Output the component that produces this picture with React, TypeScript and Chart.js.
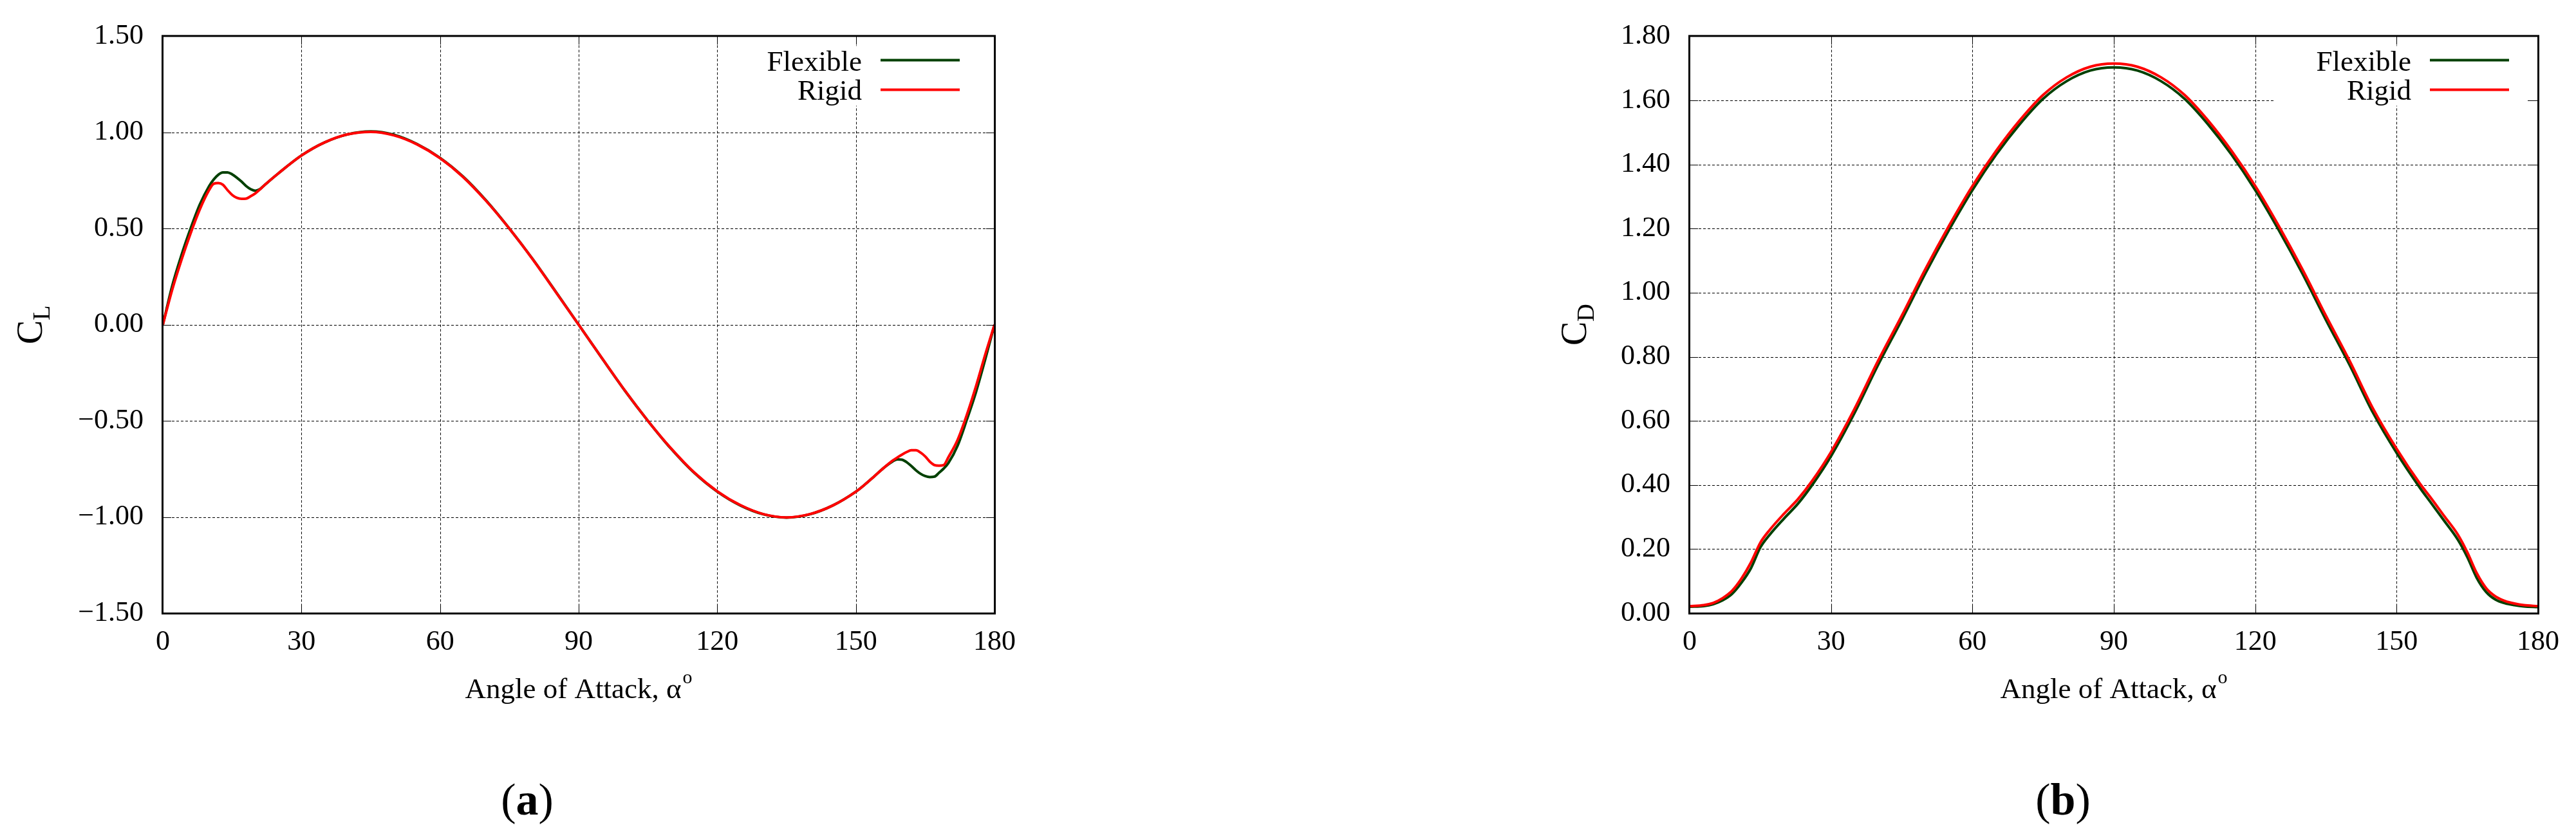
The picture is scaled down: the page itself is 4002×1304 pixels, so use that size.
import { useEffect, useRef } from "react";
import Chart from "chart.js/auto";

// angle of attack (deg) and lift coefficient, panel (a)
const clAngles = [0, 2, 4, 6, 8, 10, 11, 12, 13, 14, 15, 16, 17, 18, 19, 20, 21, 22, 25, 30, 35, 40, 45, 50, 55, 60, 65, 70, 75, 80, 85, 90, 95, 100, 105, 110, 115, 120, 125, 130, 135, 140, 145, 150, 152, 154, 156, 158, 159, 160, 161, 162, 163, 164, 165, 166, 167, 168, 169, 170, 172, 174, 176, 178, 180];
const clFlexible = [0, 0.2, 0.36, 0.5, 0.625, 0.72, 0.755, 0.78, 0.792, 0.792, 0.782, 0.765, 0.745, 0.722, 0.705, 0.697, 0.705, 0.726, 0.787, 0.88, 0.948, 0.99, 1.005, 0.988, 0.94, 0.868, 0.77, 0.645, 0.5, 0.343, 0.173, 0, -0.173, -0.343, -0.5, -0.645, -0.77, -0.868, -0.94, -0.986, -1.003, -0.986, -0.94, -0.868, -0.83, -0.788, -0.745, -0.71, -0.7, -0.702, -0.715, -0.735, -0.757, -0.775, -0.787, -0.792, -0.79, -0.77, -0.748, -0.72, -0.63, -0.495, -0.35, -0.18, 0];
const clRigid = [0, 0.18, 0.335, 0.475, 0.6, 0.7, 0.733, 0.737, 0.728, 0.7, 0.675, 0.66, 0.655, 0.656, 0.668, 0.683, 0.703, 0.726, 0.787, 0.88, 0.948, 0.99, 1.003, 0.985, 0.938, 0.866, 0.768, 0.643, 0.5, 0.342, 0.172, 0, -0.172, -0.342, -0.5, -0.643, -0.768, -0.866, -0.938, -0.985, -1.002, -0.985, -0.94, -0.868, -0.83, -0.788, -0.745, -0.706, -0.69, -0.675, -0.662, -0.653, -0.653, -0.665, -0.685, -0.712, -0.73, -0.733, -0.73, -0.69, -0.6, -0.47, -0.32, -0.155, 0];

// angle of attack (deg) and drag coefficient, panel (b)
const cdAngles = [0, 3, 5, 7, 9, 11, 13, 15, 17, 20, 23, 26, 30, 35, 40, 45, 50, 55, 60, 65, 70, 75, 80, 85, 90, 95, 100, 105, 110, 115, 120, 125, 130, 135, 140, 145, 150, 155, 157, 160, 163, 165, 167, 169, 171, 173, 175, 177, 180];
const cdFlexible = [0.02, 0.022, 0.028, 0.04, 0.06, 0.095, 0.14, 0.205, 0.245, 0.295, 0.342, 0.4, 0.49, 0.625, 0.775, 0.915, 1.06, 1.195, 1.32, 1.43, 1.525, 1.605, 1.66, 1.693, 1.703, 1.693, 1.66, 1.605, 1.525, 1.43, 1.32, 1.195, 1.06, 0.915, 0.775, 0.625, 0.5, 0.39, 0.35, 0.29, 0.229, 0.175, 0.11, 0.066, 0.042, 0.031, 0.025, 0.021, 0.019];
const cdRigid = [0.022, 0.025, 0.032, 0.047, 0.07, 0.108, 0.158, 0.22, 0.26, 0.31, 0.356, 0.413, 0.503, 0.638, 0.788, 0.928, 1.073, 1.208, 1.333, 1.442, 1.537, 1.617, 1.672, 1.705, 1.715, 1.705, 1.672, 1.617, 1.537, 1.442, 1.333, 1.208, 1.073, 0.928, 0.788, 0.638, 0.513, 0.403, 0.365, 0.305, 0.245, 0.19, 0.125, 0.078, 0.052, 0.038, 0.03, 0.025, 0.022];

// tick values
const xTicks = [0, 30, 60, 90, 120, 150, 180];
const clTicks = [-1.5, -1, -0.5, 0, 0.5, 1, 1.5];
const cdTicks = [0, 0.2, 0.4, 0.6, 0.8, 1, 1.2, 1.4, 1.6, 1.8];

const seriesNames = ["Flexible", "Rigid"];
const xTitle = "Angle of Attack, α";

const FONT = '"Liberation Serif", "Times New Roman", serif';
const GREEN = "#004000";
const RED = "#ff0000";
const H = 1304;
const AREA_TOP = 52;
const AREA_BOTTOM = 953;
const TICK = 13;

type PanelProps = {
    angles: number[];
    flexible: number[];
    rigid: number[];
    yTicks: number[];
    ySub: string;
    canvasLeft: number;
    canvasWidth: number;
    areaLeft: number;
    areaRight: number;
    yTitleX: number;
    legText: number;
    legLine0: number;
    legLine1: number;
};

const fmt = (v: number) => (v < 0 ? "\u2212" : "") + Math.abs(v).toFixed(2);

const makeDecor = (p: PanelProps) => ({
    id: "decor",
    beforeDatasetsDraw(chart: any) {
        const { ctx, chartArea: a, scales } = chart;
        ctx.save();
        ctx.strokeStyle = "#000";
        ctx.lineWidth = 1;
        ctx.setLineDash([4, 3]);
        ctx.beginPath();
        for (const t of scales.x.ticks) {
            const px = Math.round(scales.x.getPixelForValue(t.value)) + 0.5;
            if (px < a.left + 3 || px > a.right - 3) continue;
            ctx.moveTo(px, a.top);
            ctx.lineTo(px, a.bottom);
        }
        for (const t of scales.y.ticks) {
            const py = Math.round(scales.y.getPixelForValue(t.value)) + 0.5;
            if (py < a.top + 3 || py > a.bottom - 3) continue;
            ctx.moveTo(a.left, py);
            ctx.lineTo(a.right, py);
        }
        ctx.stroke();
        ctx.setLineDash([]);
        // opaque key box
        ctx.fillStyle = "#fff";
        ctx.fillRect(a.right - 410, a.top + 15, 393, 93);
        ctx.restore();
    },
    afterDatasetsDraw(chart: any) {
        const { ctx, chartArea: a, scales } = chart;
        ctx.save();
        ctx.strokeStyle = "#000";
        ctx.lineWidth = 1;
        ctx.beginPath();
        for (const t of scales.x.ticks) {
            const px = Math.round(scales.x.getPixelForValue(t.value)) + 0.5;
            if (px < a.left + 3 || px > a.right - 3) continue;
            ctx.moveTo(px, a.bottom);
            ctx.lineTo(px, a.bottom - TICK);
            ctx.moveTo(px, a.top);
            ctx.lineTo(px, a.top + TICK);
        }
        for (const t of scales.y.ticks) {
            const py = Math.round(scales.y.getPixelForValue(t.value)) + 0.5;
            if (py < a.top + 3 || py > a.bottom - 3) continue;
            ctx.moveTo(a.left, py);
            ctx.lineTo(a.left + TICK, py);
            ctx.moveTo(a.right, py);
            ctx.lineTo(a.right - TICK, py);
        }
        ctx.stroke();
        ctx.lineWidth = 3;
        ctx.strokeRect(a.left - 0.5, a.top - 0.5, a.right - a.left + 1, a.bottom - a.top + 1);

        // key
        const ds = chart.data.datasets;
        ctx.font = `45px ${FONT}`;
        ctx.fillStyle = "#000";
        ctx.textAlign = "right";
        ctx.textBaseline = "alphabetic";
        ctx.fillText(ds[0].label, a.right - p.legText, a.top + 54);
        ctx.fillText(ds[1].label, a.right - p.legText, a.top + 99);
        ctx.lineWidth = 4;
        ctx.strokeStyle = GREEN;
        ctx.beginPath();
        ctx.moveTo(a.right - p.legLine0, a.top + 37);
        ctx.lineTo(a.right - p.legLine1, a.top + 37);
        ctx.stroke();
        ctx.strokeStyle = RED;
        ctx.beginPath();
        ctx.moveTo(a.right - p.legLine0, a.top + 83);
        ctx.lineTo(a.right - p.legLine1, a.top + 83);
        ctx.stroke();
        ctx.restore();
    },
    afterDraw(chart: any) {
        const { ctx, chartArea: a } = chart;
        ctx.save();
        ctx.fillStyle = "#000";
        ctx.textBaseline = "alphabetic";
        ctx.textAlign = "left";
        // x title with superscript o
        ctx.font = `45px ${FONT}`;
        const wMain = ctx.measureText(xTitle).width;
        ctx.font = `30px ${FONT}`;
        const wSup = ctx.measureText("o").width;
        const x0 = (a.left + a.right) / 2 - (wMain + wSup + 2) / 2;
        ctx.font = `45px ${FONT}`;
        ctx.fillText(xTitle, x0, 1085);
        ctx.font = `30px ${FONT}`;
        ctx.fillText("o", x0 + wMain + 2, 1062);

        // y title C with subscript, rotated
        ctx.translate(p.yTitleX, (a.top + a.bottom) / 2);
        ctx.rotate(-Math.PI / 2);
        ctx.font = `56px ${FONT}`;
        const wC = ctx.measureText("C").width;
        ctx.font = `38px ${FONT}`;
        const wS = ctx.measureText(p.ySub).width;
        const sx = -(wC + wS) / 2;
        ctx.font = `56px ${FONT}`;
        ctx.fillText("C", sx, 18);
        ctx.font = `38px ${FONT}`;
        ctx.fillText(p.ySub, sx + wC, 30);
        ctx.restore();
    },
});

const Panel = (p: PanelProps) => {
    const chartRef = useRef<HTMLCanvasElement>(null);

    useEffect(() => {
        let chartInstance: any;
        if (chartRef && chartRef.current) {
            chartInstance = new Chart(chartRef.current, {
                type: "line",
                data: {
                    datasets: [
                        {
                            label: seriesNames[0],
                            data: p.angles.map((a, i) => ({ x: a, y: p.flexible[i] })),
                            borderColor: GREEN,
                            borderWidth: 4,
                            pointRadius: 0,
                            fill: false,
                            cubicInterpolationMode: "monotone",
                            order: 1,
                        },
                        {
                            label: seriesNames[1],
                            data: p.angles.map((a, i) => ({ x: a, y: p.rigid[i] })),
                            borderColor: RED,
                            borderWidth: 4,
                            pointRadius: 0,
                            fill: false,
                            cubicInterpolationMode: "monotone",
                            order: 0,
                        },
                    ],
                },
                options: {
                    animation: false,
                    responsive: false,
                    devicePixelRatio: 1,
                    layout: {
                        padding: { left: 0, top: AREA_TOP, right: p.canvasWidth - p.areaRight, bottom: 0 },
                    },
                    plugins: { legend: { display: false }, tooltip: { enabled: false } },
                    scales: {
                        x: {
                            type: "linear",
                            min: 0,
                            max: 180,
                            afterBuildTicks: (s: any) => {
                                s.ticks = xTicks.map((v) => ({ value: v }));
                            },
                            afterFit: (s: any) => {
                                s.height = H - AREA_BOTTOM;
                            },
                            grid: { display: false, drawTicks: false },
                            border: { display: false },
                            ticks: {
                                padding: 19,
                                color: "#000",
                                font: { family: FONT, size: 44 },
                                maxRotation: 0,
                                callback: (v: any) => String(v),
                            },
                        },
                        y: {
                            type: "linear",
                            min: p.yTicks[0],
                            max: p.yTicks[p.yTicks.length - 1],
                            afterBuildTicks: (s: any) => {
                                s.ticks = p.yTicks.map((v) => ({ value: v }));
                            },
                            afterFit: (s: any) => {
                                s.width = p.areaLeft;
                            },
                            grid: { display: false, drawTicks: false },
                            border: { display: false },
                            ticks: {
                                padding: 30,
                                color: "#000",
                                font: { family: FONT, size: 44 },
                                callback: (v: any) => fmt(Number(v)),
                            },
                        },
                    },
                },
                plugins: [makeDecor(p)],
            } as any);
        }

        return () => {
            if (chartInstance) {
                chartInstance.destroy();
            }
        };
    }, [p]);

    return (
        <canvas
            ref={chartRef}
            width={p.canvasWidth}
            height={H}
            style={{ position: "absolute", left: p.canvasLeft, top: 0, width: p.canvasWidth, height: H }}
        />
    );
};

const panelA: PanelProps = {
    angles: clAngles,
    flexible: clFlexible,
    rigid: clRigid,
    yTicks: clTicks,
    ySub: "L",
    canvasLeft: 0,
    canvasWidth: 2000,
    areaLeft: 253,
    areaRight: 1545,
    yTitleX: 47,
    legText: 206,
    legLine0: 177,
    legLine1: 54,
};

const panelB: PanelProps = {
    angles: cdAngles,
    flexible: cdFlexible,
    rigid: cdRigid,
    yTicks: cdTicks,
    ySub: "D",
    canvasLeft: 2000,
    canvasWidth: 2002,
    areaLeft: 625,
    areaRight: 1943,
    yTitleX: 446,
    legText: 197,
    legLine0: 168,
    legLine1: 45,
};

const captionStyle = (cx: number): React.CSSProperties => ({
    position: "absolute",
    left: cx - 100,
    width: 200,
    top: 1208,
    textAlign: "center",
    fontFamily: FONT,
    fontSize: 70,
    lineHeight: "70px",
    color: "#000",
});

const App = () => {
    return (
        <div
            style={{
                position: "absolute",
                left: 0,
                top: 0,
                width: 4002,
                height: H,
                overflow: "hidden",
                background: "#fff",
            }}
        >
            <Panel {...panelA} />
            <Panel {...panelB} />
            <div style={captionStyle(819)}>
                (<b>a</b>)
            </div>
            <div style={captionStyle(3205)}>
                (<b>b</b>)
            </div>
        </div>
    );
};

export default App;
